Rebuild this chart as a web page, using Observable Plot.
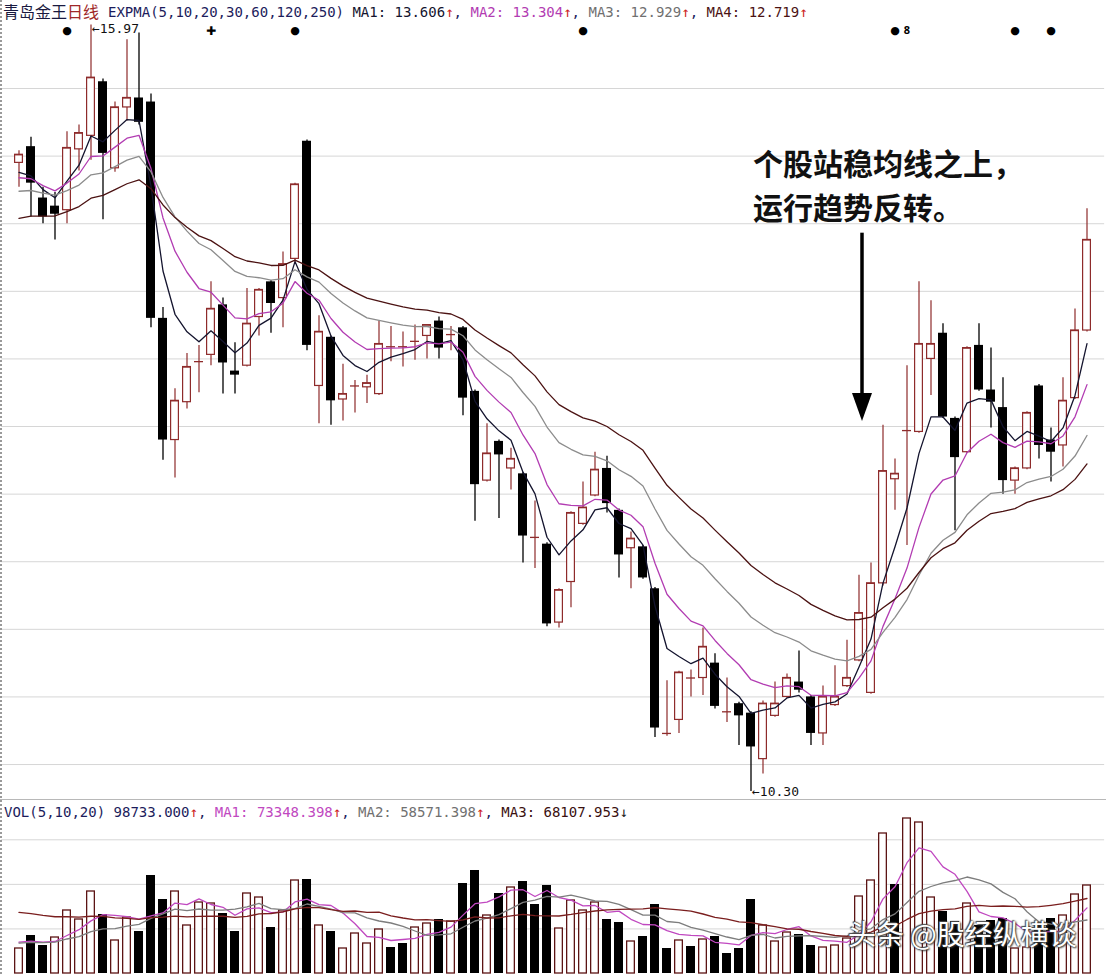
<!DOCTYPE html>
<html><head><meta charset="utf-8">
<script src="https://cdn.jsdelivr.net/npm/d3@7"></script>
<script src="https://cdn.jsdelivr.net/npm/@observablehq/plot@0.6"></script>
<style>
body{margin:0;background:#fff;}
#wrap{position:relative;width:1106px;height:974px;overflow:hidden;background:#fff;}
#wrap svg{display:block;}
.mono{position:absolute;font-family:"DejaVu Sans Mono",monospace;font-size:14px;line-height:16px;white-space:pre;color:#1c1c5c;}
.cjk{position:absolute;font-family:"Noto Sans CJK SC",sans-serif;white-space:pre;}
</style></head><body><div id="wrap"></div>
<script>
// ---- candle data (price) ----
const open = [14.95,15.07,14.69,14.63,14.60,15.05,15.15,15.55,14.91,15.36,
15.43,15.40,13.80,12.90,13.18,13.48,13.53,13.90,13.41,13.45,
13.81,14.07,13.95,14.24,15.11,13.30,13.66,13.20,13.30,13.29,
13.24,13.59,13.59,13.63,13.67,13.78,13.68,13.73,13.26,12.60,
12.89,12.69,12.65,12.18,12.13,11.55,11.85,12.28,12.49,12.69,
12.38,12.10,12.11,11.80,10.73,10.83,11.14,11.14,11.25,10.89,
10.95,10.88,10.54,10.86,11.00,11.11,11.00,10.73,10.94,11.08,
11.27,11.03,11.84,12.61,12.97,12.96,13.50,13.69,13.06,12.81,
13.60,13.27,13.14,12.60,12.69,13.30,12.90,12.86,13.21,13.71];
const high = [15.04,15.14,14.77,14.73,15.18,15.23,15.97,15.57,15.40,15.86,
15.91,15.46,13.88,13.28,13.54,13.60,14.07,13.95,13.62,14.02,
14.02,14.08,14.29,14.80,15.12,13.82,13.67,13.46,13.34,13.38,
13.78,13.74,13.70,13.75,13.75,13.81,13.74,13.74,13.27,13.02,
12.90,12.84,12.66,12.45,12.14,11.80,12.37,12.59,12.81,12.78,
12.39,12.22,12.12,11.81,11.12,11.19,11.20,11.51,11.32,11.14,
10.96,10.89,10.97,11.11,11.17,11.34,11.01,11.08,11.23,11.42,
11.90,11.99,13.01,12.76,13.45,14.07,13.93,13.76,13.07,13.59,
13.76,13.58,13.36,12.70,13.11,13.31,12.99,13.36,13.87,14.61];
const low = [14.77,14.55,14.50,14.38,14.50,14.89,14.97,14.53,14.88,15.26,
15.23,13.73,12.75,12.62,13.13,13.25,13.45,13.24,13.24,13.44,
13.67,13.69,13.73,14.21,13.56,13.02,13.01,13.04,13.10,13.17,
13.23,13.48,13.44,13.49,13.50,13.50,13.56,13.08,12.30,12.59,
12.32,12.53,11.99,11.95,11.52,11.51,11.66,12.27,12.48,12.36,
11.88,11.80,11.87,10.70,10.71,10.73,11.00,11.01,10.91,10.81,
10.64,10.30,10.43,10.85,10.99,11.03,10.64,10.64,10.93,11.07,
11.26,11.02,11.82,12.38,12.12,12.95,13.23,13.06,12.23,12.80,
13.26,12.99,12.50,12.50,12.68,12.76,12.59,12.70,13.20,13.70];
const close = [15.01,14.80,14.55,14.57,15.06,15.17,15.58,15.02,15.36,15.43,
15.25,13.80,12.90,13.19,13.44,13.48,13.87,13.47,13.38,13.76,
14.01,13.91,14.20,14.79,13.60,13.70,13.19,13.24,13.30,13.32,
13.61,13.59,13.59,13.63,13.75,13.58,13.68,13.21,12.57,12.80,
12.79,12.76,12.19,12.18,11.54,11.79,12.36,12.40,12.68,12.43,
12.05,12.17,11.88,10.77,10.73,11.18,11.14,11.37,10.93,10.89,
10.86,10.63,10.95,10.95,11.14,11.05,10.73,11.00,11.00,11.14,
11.62,11.84,12.67,12.65,12.97,13.61,13.61,13.07,12.77,13.58,
13.27,13.18,12.60,12.69,13.10,12.86,12.81,13.19,13.71,14.38];
// ---- volume data ----
const volume = [28050,42640,31420,40390,70690,60590,92000,66200,37030,62830,
47120,109960,83030,92000,53860,79660,78540,67320,47120,89760,
85270,51610,70690,104350,105470,53860,47120,28050,44880,33660,
49370,29170,33660,51610,56100,60590,58340,100980,115570,65080,
89760,96490,103220,77420,98740,50490,81910,70690,79660,60590,
57220,35900,41510,77420,28050,37030,30290,38150,41510,22440,
28050,83030,53860,35900,46000,43760,31420,29170,31420,39270,
86390,104350,157080,99860,173910,169420,85270,69560,58340,78540,
53860,59470,61710,28050,29170,53860,61710,65080,88640,98733];
const volDown = [0,1,1,0,0,0,0,1,0,0,
1,1,1,0,0,0,0,1,1,0,
0,1,0,0,1,0,1,0,0,0,
0,1,1,0,0,1,0,1,1,0,
1,0,1,1,1,0,0,0,0,1,
1,0,1,1,1,0,1,0,1,1,
1,1,0,0,0,1,1,0,0,0,
0,0,0,1,0,0,0,1,1,0,
1,1,1,0,0,1,1,0,0,0];
// ---- indicator settings / levels ----
const emaPeriods = [5, 10, 20, 30];
const emaSeeds = [14.88, 14.84, 14.74, 14.54];
const volMaPeriods = [5, 10, 20];
const volMaSeeds = [37000, 34800, 70700];
const priceGrid = [10.5, 11, 11.5, 12, 12.5, 13, 13.5, 14, 14.5, 15, 15.5];
const volGrid = [50000, 100000, 150000];
const signalDots = [4, 23, 47, 73, 83, 86];
const signalCross = [16];
const signalEight = [74];
const noteLines = ["个股站稳均线之上，", "运行趋势反转。"];
const arrowNote = {i: 70, top: 14.43, shaftEnd: 13.20, tip: 13.04};

const upColor = "#8e2b2b";
const maColors = ["#14142e", "#b23cb2", "#8c8c8c", "#4b1212"];
const volMaColors = ["#c048c0", "#7d7d7d", "#7a1e1e"];
const gridColor = "#d6d6d6";

const N = close.length;
const idx = d3.range(N);
const candles = idx.map(i => ({i, open: open[i], high: high[i], low: low[i], close: close[i]}));
const upC = candles.filter(d => d.close >= d.open);
const dnC = candles.filter(d => d.close < d.open);

function ema(values, period, seed) {
  const a = 2 / (period + 1); let e = seed;
  return values.map((v, i) => (i === 0 ? e : (e = e + a * (v - e))));
}
function sma(values, k, seed) {
  return values.map((v, i) => { let s = 0; for (let j = i - k + 1; j <= i; j++) s += j < 0 ? seed : values[j]; return s / k; });
}
const emaSeries = emaPeriods.map((p, k) => ema(close, p, emaSeeds[k]).map((v, i) => ({i, v})));
const volRows = idx.map(i => ({i, v: volume[i], down: volDown[i]}));
const volMaSeries = volMaPeriods.map((p, k) => sma(volume, p, volMaSeeds[k]).map((v, i) => ({i, v})));

const xOpts = {type: "band", domain: idx, paddingInner: 0.266, paddingOuter: 0.133, align: 0.5, axis: null};
const fmt = d3.format(".2f");
const hiI = d3.maxIndex(high), loI = d3.minIndex(low);

const arrowHead = {draw(ctx) { ctx.moveTo(-10, -28); ctx.lineTo(10, -28); ctx.lineTo(0, 0); ctx.closePath(); }};

const main = Plot.plot({
  width: 1106, height: 800, marginLeft: 0.87, marginRight: 1.87, marginTop: 0, marginBottom: 0,
  x: xOpts, y: {domain: [10.234, 16.151], axis: null},
  style: {background: "transparent"},
  marks: [
    Plot.ruleY(priceGrid, {stroke: gridColor, strokeWidth: 1}),
    Plot.ruleX(upC, {x: "i", y1: "low", y2: "high", stroke: upColor, strokeWidth: 1.2}),
    Plot.ruleX(dnC, {x: "i", y1: "low", y2: "high", stroke: "#000", strokeWidth: 1.3}),
    Plot.barY(upC, {x: "i", y1: "open", y2: "close", fill: "#fff", stroke: upColor, strokeWidth: 1.2, insetLeft: 0.6, insetRight: 0.6}),
    Plot.tickY(upC, {x: "i", y: "close", stroke: upColor, strokeWidth: 1.3}),
    Plot.barY(dnC, {x: "i", y1: "open", y2: "close", fill: "#000"}),
    ...emaSeries.map((s, k) => Plot.line(s, {x: "i", y: "v", stroke: maColors[k], strokeWidth: 1.3})),
    Plot.text([candles[hiI]], {x: "i", y: "high", text: d => "←" + fmt(d.high), textAnchor: "start", dx: 1, dy: 4, fontSize: 13, fontFamily: "DejaVu Sans Mono", fill: "#111"}),
    Plot.text([candles[loI]], {x: "i", y: "low", text: d => "←" + fmt(d.low), textAnchor: "start", dx: 1, dy: 0, fontSize: 13, fontFamily: "DejaVu Sans Mono", fill: "#111"}),
    Plot.text(signalDots, {x: d => d, text: () => "●", frameAnchor: "top", dy: 26, fontSize: 11, fontFamily: "DejaVu Sans", fill: "#000"}),
    Plot.text(signalCross, {x: d => d, text: () => "✚", frameAnchor: "top", dy: 26, fontSize: 12, fontFamily: "DejaVu Sans", fill: "#000"}),
    Plot.text(signalEight, {x: d => d, text: () => "8", frameAnchor: "top", dy: 26, fontSize: 11, fontWeight: "bold", fill: "#000"}),
    Plot.ruleX([arrowNote], {x: "i", y1: "top", y2: "shaftEnd", stroke: "#000", strokeWidth: 3.5, dx: 3}),
    Plot.dot([arrowNote], {x: "i", y: "tip", symbol: arrowHead, fill: "#000", stroke: "none", r: 1, dx: 3})
  ]
});

const vol = Plot.plot({
  width: 1106, height: 174, marginLeft: 0.87, marginRight: 1.87, marginTop: 0, marginBottom: 1,
  x: xOpts, y: {domain: [0, 194106], axis: null},
  style: {background: "transparent"},
  marks: [
    Plot.ruleY(volGrid, {stroke: gridColor, strokeWidth: 1}),
    Plot.barY(volRows.filter(d => !d.down), {x: "i", y: "v", fill: "#fff", stroke: "#5c1414", strokeWidth: 1.3, insetLeft: 0.65, insetRight: 0.65}),
    Plot.barY(volRows.filter(d => d.down), {x: "i", y: "v", fill: "#000"}),
    ...volMaSeries.map((s, k) => Plot.line(s, {x: "i", y: "v", stroke: volMaColors[k], strokeWidth: 1.3}))
  ]
});

const wrap = document.getElementById("wrap");
wrap.appendChild(main);
wrap.appendChild(vol);

function addDiv(cls, style, html) {
  const d = document.createElement("div"); d.className = cls; d.setAttribute("style", style); d.innerHTML = html; wrap.appendChild(d); return d;
}
// borders
addDiv("", "position:absolute;left:0;top:0;width:0;height:974px;border-left:2px dotted #9a9a9a;", "");
addDiv("", "position:absolute;left:0;top:799px;width:1106px;height:0;border-top:1px solid #b8b8b8;", "");
// headers
const red = "#cc2020";
addDiv("cjk", "left:3px;top:2px;font-size:16px;line-height:18px;color:#1a1a40;", '青岛金王<span style="color:#a02828">日线</span>');
addDiv("mono", "left:108px;top:4px;",
  `EXPMA(${[5,10,20,30,60,120,250].join(",")}) ` +
  `<span style="color:${maColors[0]}">MA1: 13.606</span><span style="color:${red}">↑</span>, ` +
  `<span style="color:${maColors[1]}">MA2: 13.304</span><span style="color:${red}">↑</span>, ` +
  `<span style="color:#707070">MA3: 12.929</span><span style="color:${red}">↑</span>, ` +
  `<span style="color:${maColors[3]}">MA4: 12.719</span><span style="color:${red}">↑</span>`);
addDiv("mono", "left:4px;top:804px;",
  `VOL(${volMaPeriods.join(",")}) ${volume[N-1].toFixed(3)}<span style="color:${red}">↑</span>, ` +
  `<span style="color:${volMaColors[0]}">MA1: 73348.398</span><span style="color:${red}">↑</span>, ` +
  `<span style="color:#707070">MA2: 58571.398</span><span style="color:${red}">↑</span>, ` +
  `<span style="color:#3a1010">MA3: 68107.953</span><span style="color:#222">↓</span>`);
// annotation
addDiv("cjk", "left:753px;top:146px;font-size:30px;line-height:32px;font-weight:700;color:#111;", noteLines[0]);
addDiv("cjk", "left:753px;top:190px;font-size:30px;line-height:32px;font-weight:700;color:#111;", noteLines[1]);
// watermark
addDiv("cjk", "left:848px;top:917px;font-size:28px;line-height:32px;color:#fff;text-shadow:0 0 2px #333,1px 1px 2px #333,-1px -1px 1px #555;", "头条 @股经纵横谈");
</script>
</body></html>
